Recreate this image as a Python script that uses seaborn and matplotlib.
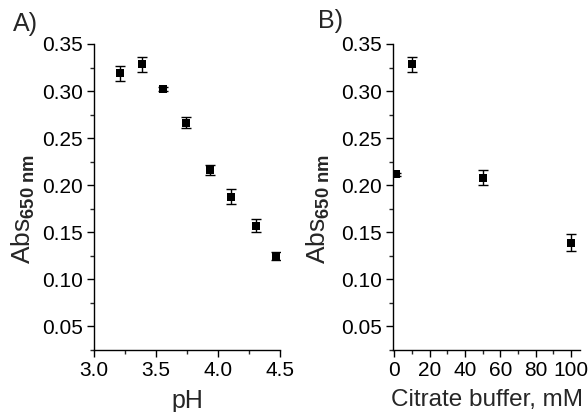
import numpy as np
import pandas as pd
import matplotlib
matplotlib.use("Agg")
import matplotlib.pyplot as plt
from matplotlib.ticker import MultipleLocator
import seaborn as sns

# Panel A data
ph = [3.21, 3.39, 3.56, 3.745, 3.935, 4.105, 4.305, 4.465]
abs_ph = [0.319, 0.3285, 0.302, 0.2665, 0.216, 0.188, 0.157, 0.125]
err_ph = [0.008, 0.008, 0.002, 0.006, 0.005, 0.008, 0.007, 0.004]

# Panel B data
citrate = [1.0, 10.0, 50.0, 100.0]
abs_cit = [0.2115, 0.3285, 0.208, 0.139]
err_cit = [0.002, 0.008, 0.008, 0.009]

sns.set_style("ticks")
plt.rcParams['font.family'] = ['Liberation Sans', 'DejaVu Sans']
plt.rcParams['mathtext.fontset'] = 'custom'
plt.rcParams['mathtext.rm'] = 'Liberation Sans'
plt.rcParams['mathtext.bf'] = 'Liberation Sans:bold'
plt.rcParams['mathtext.it'] = 'Liberation Sans:italic'

fig = plt.figure(figsize=(5.88, 4.12), dpi=100)
axA = fig.add_axes([94/588, 62/412, 186/588, 306/412])
axB = fig.add_axes([393.3/588, 62/412, 186.7/588, 306/412])

dfA = pd.DataFrame({"pH": ph, "Abs": abs_ph, "err": err_ph})
dfB = pd.DataFrame({"c": citrate, "Abs": abs_cit, "err": err_cit})

ylab = r"Abs$_{\mathbf{650\ nm}}$"

for ax, df, xcol in [(axA, dfA, "pH"), (axB, dfB, "c")]:
    ax.errorbar(df[xcol], df["Abs"], yerr=df["err"], fmt="none", ecolor="black",
                elinewidth=1.0, capsize=3.5, capthick=1.0, zorder=2)
    sns.scatterplot(data=df, x=xcol, y="Abs", ax=ax, marker="s", s=36,
                    color="black", edgecolor="black", linewidth=0, zorder=3, legend=False)
    ax.set_ylim(0.025, 0.35)
    ax.yaxis.set_major_locator(MultipleLocator(0.05))
    ax.yaxis.set_minor_locator(MultipleLocator(0.025))
    ax.yaxis.set_major_formatter(matplotlib.ticker.FormatStrFormatter("%.2f"))
    ax.tick_params(axis="both", which="major", direction="out", length=5, width=1,
                   labelsize=15, pad=3, colors="black")
    ax.tick_params(axis="both", which="minor", direction="out", length=3, width=1)
    for s in ["top", "right"]:
        ax.spines[s].set_visible(False)
    for s in ["left", "bottom"]:
        ax.spines[s].set_linewidth(1.0)
        ax.spines[s].set_color("black")
    ax.set_ylabel(ylab, fontsize=19)

axA.yaxis.set_label_coords(-0.307, 0.46)
axB.yaxis.set_label_coords(-0.328, 0.46)

axA.set_xlim(3.0, 4.5)
axA.xaxis.set_major_locator(MultipleLocator(0.5))
axA.xaxis.set_minor_locator(MultipleLocator(0.25))
axA.xaxis.set_major_formatter(matplotlib.ticker.FormatStrFormatter("%.1f"))
axA.set_xlabel("pH", fontsize=18, labelpad=6.5)

axB.set_xlim(-0.5, 105)
axB.xaxis.set_major_locator(MultipleLocator(20))
axB.xaxis.set_minor_locator(MultipleLocator(10))
axB.set_xlabel("Citrate buffer, mM", fontsize=17.5, labelpad=6.5)

fig.text(13/588, 1 - 24/412, "A)", fontsize=18, va="center", ha="left")
fig.text(318/588, 1 - 21/412, "B)", fontsize=18, va="center", ha="left")

fig.savefig("out.png", dpi=100, facecolor="white")
